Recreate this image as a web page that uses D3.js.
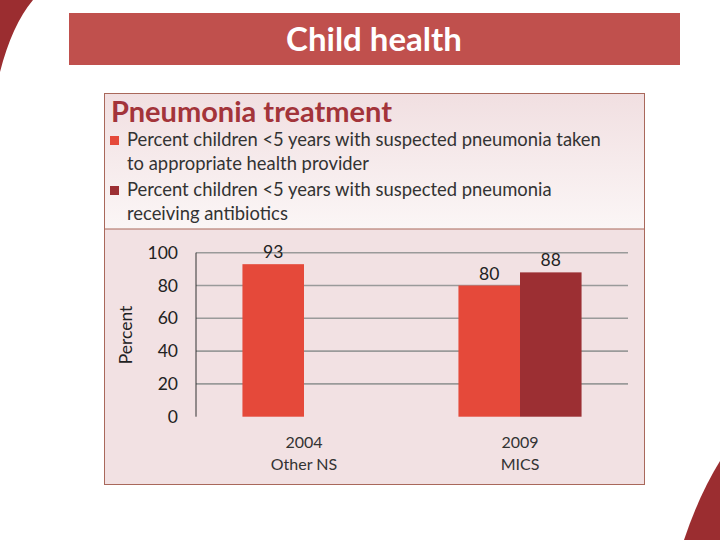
<!DOCTYPE html>
<html>
<head>
<meta charset="utf-8">
<script src="https://cdn.jsdelivr.net/npm/d3@7"></script>
<style>
  body { margin: 0; background: #fff; }
  svg { display: block; font-family: Lato, "Open Sans", sans-serif; }
</style>
</head>
<body>
<div id="chart"></div>
<script>
// pneumonia treatment slide

const categories = ["2004|Other NS", "2009|MICS"]
const seriesNames = [
  "Percent children <5 years with suspected pneumonia taken|to appropriate health provider",
  "Percent children <5 years with suspected pneumonia|receiving antibiotics"
]
const seriesColors = ["#e5493a", "#9c2f33"]
// null = no survey value
const takenToProvider = [93, 80]
const antibiotics = [null, 88]
const yTicks = [0, 20, 40, 60, 80, 100]

const svg = d3.select("#chart")
  .append("svg")
  .attr("width", 720)
  .attr("height", 540)

const defs = svg.append("defs")
const grad = defs.append("linearGradient")
  .attr("id", "legendGrad")
  .attr("x1", 0).attr("y1", 0).attr("x2", 0).attr("y2", 1)
grad.append("stop").attr("offset", "0%").attr("stop-color", "#f1dfe1")
grad.append("stop").attr("offset", "100%").attr("stop-color", "#fbf6f6")

// corner swooshes
svg.append("path")
  .attr("d", "M0 0 L33 0 Q12 25 0 72 Z")
  .style("fill", "#9b2d30")
svg.append("path")
  .attr("d", "M720 461 Q699 495 684 540 L720 540 Z")
  .style("fill", "#9b2d30")

// header bar
svg.append("rect")
  .attr("x", 69).attr("y", 13)
  .attr("width", 611).attr("height", 52)
  .style("fill", "#c0504d")
svg.append("text")
  .attr("x", 374).attr("y", 51)
  .attr("text-anchor", "middle")
  .style("font-size", "33px")
  .style("font-weight", "bold")
  .style("fill", "#fff")
  .text("Child health")

// panel
const px = 104, py = 93, pw = 541, ph = 392, split = 229
svg.append("rect")
  .attr("x", px).attr("y", py).attr("width", pw).attr("height", split - py)
  .style("fill", "url(#legendGrad)")
svg.append("rect")
  .attr("x", px).attr("y", split).attr("width", pw).attr("height", py + ph - split)
  .style("fill", "#f2e1e3")
svg.append("line")
  .attr("x1", px).attr("x2", px + pw).attr("y1", split).attr("y2", split)
  .style("stroke", "#a9685b").style("stroke-width", 1)
svg.append("rect")
  .attr("x", px + 0.5).attr("y", py + 0.5).attr("width", pw - 1).attr("height", ph - 1)
  .style("fill", "none").style("stroke", "#a9685b").style("stroke-width", 1)

svg.append("text")
  .attr("x", 111).attr("y", 122)
  .style("font-size", "29px")
  .style("font-weight", "bold")
  .style("fill", "#a3343a")
  .text("Pneumonia treatment")

// legend
const legend = svg.append("g")
seriesNames.forEach(function(name, i) {
  const ly = 146 + i * 50
  legend.append("rect")
    .attr("x", 110).attr("y", ly - 10)
    .attr("width", 9).attr("height", 9)
    .style("fill", seriesColors[i])
  name.split("|").forEach(function(line, j) {
    legend.append("text")
      .attr("x", 127).attr("y", ly + j * 24)
      .style("font-size", "18.4px")
      .style("fill", "#333")
      .text(line)
  })
})

// plot
const plotLeft = 196, plotRight = 628, plotTop = 252.7, plotBottom = 416.7

const x0 = d3.scaleBand()
  .domain(categories)
  .range([plotLeft, plotRight])
  .paddingInner(0.43)
  .paddingOuter(0.215)

const x1 = d3.scaleBand()
  .domain([0, 1])
  .range([0, x0.bandwidth()])

const y = d3.scaleLinear()
  .domain([0, 100])
  .range([plotBottom, plotTop])

const yAxis = d3.axisLeft(y)
  .tickValues(yTicks)
  .tickSize(0)
  .tickPadding(18)

const gy = svg.append("g")
  .attr("transform", "translate(" + plotLeft + ",0)")
  .call(yAxis)
gy.select(".domain").remove()
gy.selectAll("text")
  .style("font-family", "Lato, 'Open Sans', sans-serif")
  .style("font-size", "17.5px")
  .style("fill", "#222")

// grid lines
svg.append("g")
  .selectAll("line")
  .data(yTicks.filter(d => d > 0))
  .join("line")
  .attr("x1", plotLeft).attr("x2", plotRight)
  .attr("y1", d => y(d)).attr("y2", d => y(d))
  .style("stroke", "#9a9a9a")
  .style("stroke-width", 1.6)

svg.append("line")
  .attr("x1", plotLeft).attr("x2", plotLeft)
  .attr("y1", plotTop).attr("y2", plotBottom)
  .style("stroke", "#333").style("stroke-width", 1)

const series = [takenToProvider, antibiotics]
const bars = []
series.forEach(function(vals, s) {
  vals.forEach(function(v, c) {
    if (v != null) bars.push({ s: s, cat: categories[c], v: v })
  })
})

svg.append("g")
  .selectAll("rect")
  .data(bars)
  .join("rect")
  .attr("x", d => x0(d.cat) + x1(d.s))
  .attr("y", d => y(d.v))
  .attr("width", x1.bandwidth())
  .attr("height", d => y(0) - y(d.v))
  .style("fill", d => seriesColors[d.s])

svg.append("g")
  .selectAll("text")
  .data(bars)
  .join("text")
  .attr("x", d => x0(d.cat) + x1(d.s) + x1.bandwidth() / 2)
  .attr("y", d => y(d.v) - 6)
  .attr("text-anchor", "middle")
  .style("font-size", "17.5px")
  .style("fill", "#222")
  .text(d => d.v)

// category labels
categories.forEach(function(c) {
  c.split("|").forEach(function(line, j) {
    svg.append("text")
      .attr("x", x0(c) + x0.bandwidth() / 2)
      .attr("y", 448 + j * 22)
      .attr("text-anchor", "middle")
      .style("font-size", "16px")
      .style("fill", "#333")
      .text(line)
  })
})

svg.append("text")
  .attr("transform", "translate(132,335) rotate(-90)")
  .attr("text-anchor", "middle")
  .style("font-size", "17.5px")
  .style("fill", "#222")
  .text("Percent")
</script>
</body>
</html>
